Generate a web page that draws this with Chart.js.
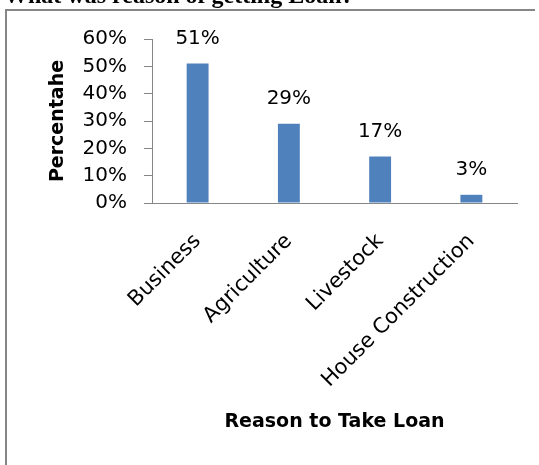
<!DOCTYPE html>
<html>
<head>
<meta charset="utf-8">
<script src="https://cdn.jsdelivr.net/npm/chart.js@4/dist/chart.umd.min.js"></script>
<style>
  html, body { margin: 0; padding: 0; width: 539px; height: 465px; overflow: hidden; background: #fff; }
  #heading {
    position: absolute; left: 4px; top: -18px; line-height: 24px; white-space: nowrap;
    font: bold 24px "Liberation Serif", "Times New Roman", serif; color: #000;
  }
  #loanChart { position: absolute; left: 0; top: 0; }
</style>
</head>
<body>
<canvas id="loanChart" width="539" height="465"></canvas>
<div id="heading">What was reason of getting Loan?</div>
<script>
// Survey answers, share of borrowers (%)
const reasons = ['Business', 'Agriculture', 'Livestock', 'House Construction'];
const shares = [51, 29, 17, 3];
const yTicks = [0, 10, 20, 30, 40, 50, 60];

const axisGray = '#868686';
const barBlue = '#4F81BD';
const labelFont = { family: '"DejaVu Sans", sans-serif', size: 20 };
const categoryFont = { family: '"DejaVu Sans", sans-serif', size: 21 };
const titleFont = { family: '"DejaVu Sans", sans-serif', size: 19, weight: 'bold' };

// prints the percentage above each bar
const valueLabels = {
  id: 'valueLabels',
  afterDatasetsDraw(chart) {
    const ctx = chart.ctx;
    const meta = chart.getDatasetMeta(0);
    ctx.save();
    ctx.font = '20px "DejaVu Sans", sans-serif';
    ctx.fillStyle = '#000';
    ctx.textAlign = 'center';
    ctx.textBaseline = 'alphabetic';
    meta.data.forEach((bar, i) => {
      ctx.fillText(shares[i] + '%', bar.x, bar.y - 20);
    });
    ctx.restore();
  }
};

// chart frame: only its top and left edges fall inside the page
const chartFrame = {
  id: 'chartFrame',
  beforeDraw(chart) {
    const ctx = chart.ctx;
    ctx.save();
    ctx.strokeStyle = axisGray;
    ctx.lineWidth = 2;
    ctx.beginPath();
    ctx.moveTo(6, chart.height);
    ctx.lineTo(6, 10);
    ctx.lineTo(chart.width - 4, 10);
    ctx.stroke();
    ctx.restore();
  }
};

const ctx = document.getElementById('loanChart').getContext('2d');
const loanChart = new Chart(ctx, {
  type: 'bar',
  data: {
    labels: reasons,
    datasets: [{
      data: shares,
      backgroundColor: barBlue,
      borderWidth: 0,
      categoryPercentage: 1,
      barPercentage: 0.24,
    }],
  },
  options: {
    responsive: false,
    animation: false,
    events: [],
    layout: { padding: { left: 43, right: 22, top: 39, bottom: 28 } },
    plugins: {
      legend: { display: false },
      tooltip: { enabled: false },
    },
    scales: {
      x: {
        grid: { drawOnChartArea: false, drawTicks: false },
        border: { color: axisGray, width: 1 },
        ticks: { color: '#000', font: categoryFont, minRotation: 45, maxRotation: 45, padding: 26 },
        title: { display: true, text: 'Reason to Take Loan', color: '#000', font: titleFont },
        afterFit(scale) { scale.height = 234; },
      },
      y: {
        min: 0,
        max: 60,
        grid: { drawOnChartArea: false, tickLength: 8, color: axisGray },
        border: { color: axisGray, width: 1 },
        afterBuildTicks(scale) { scale.ticks = yTicks.map(v => ({ value: v })); },
        ticks: {
          color: '#000',
          font: labelFont,
          padding: 17,
          callback: function (value) { return value + '%'; },
        },
        title: { display: true, text: 'Percentahe', color: '#000', font: titleFont },
        afterFit(scale) { scale.width = 109; },
      },
    },
  },
  plugins: [chartFrame, valueLabels],
});
</script>
</body>
</html>
